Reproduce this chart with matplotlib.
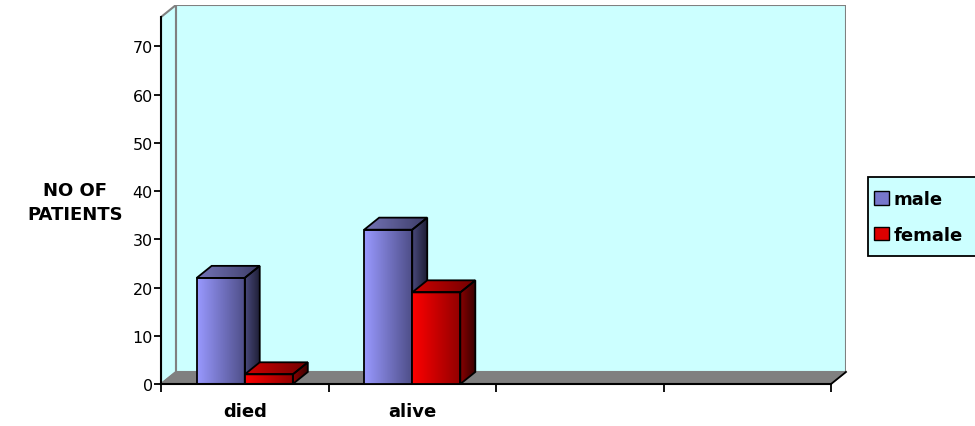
import matplotlib
matplotlib.use('Agg')
import matplotlib.pyplot as plt
import numpy as np
from matplotlib.patches import Polygon, Patch, Rectangle

plt.rcParams['font.family'] = ['DejaVu Sans']

# patient counts per outcome
categories = ['died', 'alive', '', '']
male = [22, 32]
female = [2, 19]
series_names = ['male', 'female']
yticks = [0, 10, 20, 30, 40, 50, 60, 70]

# gradient colours: (front left, front right), (side), (top)
male_cols = {'front': ('#9999ff', '#4d4d86'), 'side': ('#4a4a7c', '#1e1e36'),
             'top': ('#7474b8', '#3c3c66')}
female_cols = {'front': ('#ff0000', '#900000'), 'side': ('#8a0000', '#3a0000'),
               'top': ('#d00000', '#700000')}

fig = plt.figure(figsize=(9.75, 4.27), dpi=100)
ax = fig.add_axes([161 / 975, 42 / 427, 685 / 975, 379 / 427])

ncat = len(categories)
ddx = 0.0894   # depth offset in x (data units)
ddy = 2.5      # depth offset in y (data units)
ytop = 78.6
bar_w = 0.287
wall = '#ccffff'
grey = '#808080'


def grad_poly(verts, c0, c1, z):
    verts = np.asarray(verts)
    poly = Polygon(verts, closed=True, facecolor='none', edgecolor='black',
                   lw=1.3, zorder=z + 0.1, joinstyle='miter')
    ax.add_patch(poly)
    cmap = matplotlib.colors.LinearSegmentedColormap.from_list('g', [c0, c1])
    g = np.linspace(0, 1, 256).reshape(1, -1)
    x0, y0 = verts.min(axis=0)
    x1, y1 = verts.max(axis=0)
    im = ax.imshow(g, cmap=cmap, extent=[x0, x1, y0, y1], aspect='auto',
                   interpolation='bilinear', zorder=z, origin='lower')
    im.set_clip_path(poly)


# walls and floor
ax.add_patch(Polygon([(ddx, ddy), (ncat + ddx, ddy), (ncat + ddx, ytop), (ddx, ytop)],
                     facecolor=wall, edgecolor=grey, lw=1.5, zorder=1))
ax.add_patch(Polygon([(0, 0), (ddx, ddy), (ddx, ytop), (0, ytop - ddy)],
                     facecolor=wall, edgecolor=grey, lw=1.5, zorder=1))
ax.add_patch(Polygon([(0, 0), (ncat, 0), (ncat + ddx, ddy), (ddx, ddy)],
                     facecolor=grey, edgecolor=grey, lw=1, zorder=1.5))

# front axis lines
ax.plot([0, 0], [0, ytop - ddy], color='black', lw=1.5, zorder=5, clip_on=False)
ax.plot([0, ncat], [0, 0], color='black', lw=1.5, zorder=5, clip_on=False)
ax.plot([ncat, ncat + ddx], [0, ddy], color='black', lw=1.3, zorder=5, clip_on=False)

# 3d-looking columns
z = 3
for i in range(len(male)):
    for j, (vals, cols) in enumerate([(male, male_cols), (female, female_cols)]):
        v = vals[i]
        xl = i + 0.5 - bar_w + j * bar_w
        xr = xl + bar_w
        grad_poly([(xl, 0), (xr, 0), (xr, v), (xl, v)], *cols['front'], z)
        grad_poly([(xr, 0), (xr + ddx, ddy), (xr + ddx, v + ddy), (xr, v)], *cols['side'], z)
        grad_poly([(xl, v), (xr, v), (xr + ddx, v + ddy), (xl + ddx, v + ddy)], *cols['top'], z)
        z += 1

ax.set_xlim(0, ncat + ddx)
ax.set_ylim(0, ytop)
for s in ax.spines.values():
    s.set_visible(False)

ax.set_yticks(yticks)
ax.set_yticklabels([str(t) for t in yticks], fontsize=11.5)
ax.tick_params(axis='y', direction='out', length=5, width=1.3, pad=1)
ax.set_xticks(range(ncat + 1))
ax.set_xticklabels([])
ax.set_xticks([i + 0.5 for i in range(ncat)], minor=True)
ax.set_xticklabels(categories, minor=True, fontsize=13, fontweight='bold')
ax.tick_params(axis='x', which='major', direction='out', length=6, width=1.3)
ax.tick_params(axis='x', which='minor', length=0, pad=13)

fig.text(75 / 975, 1 - 203 / 427, 'NO OF\nPATIENTS', ha='center', va='center',
         fontsize=13, fontweight='bold', linespacing=1.4)

# legend box runs off the right edge of the figure
fig.patches.append(Rectangle((868 / 975, 1 - 257 / 427), 120 / 975, 79 / 427,
                             transform=fig.transFigure, facecolor=wall,
                             edgecolor='black', lw=1.3, zorder=0))
handles = [Patch(facecolor='#7777cc', edgecolor='black'),
           Patch(facecolor='#dd0000', edgecolor='black')]
leg = fig.legend(handles, series_names, loc='center left',
                 bbox_to_anchor=(869 / 975, 1 - 218 / 427), frameon=False,
                 prop={'size': 13, 'weight': 'bold'}, handlelength=0.78,
                 handleheight=0.78, handletextpad=0.3, labelspacing=0.95,
                 borderpad=0.3, borderaxespad=0)

fig.savefig('out.png', dpi=100)
